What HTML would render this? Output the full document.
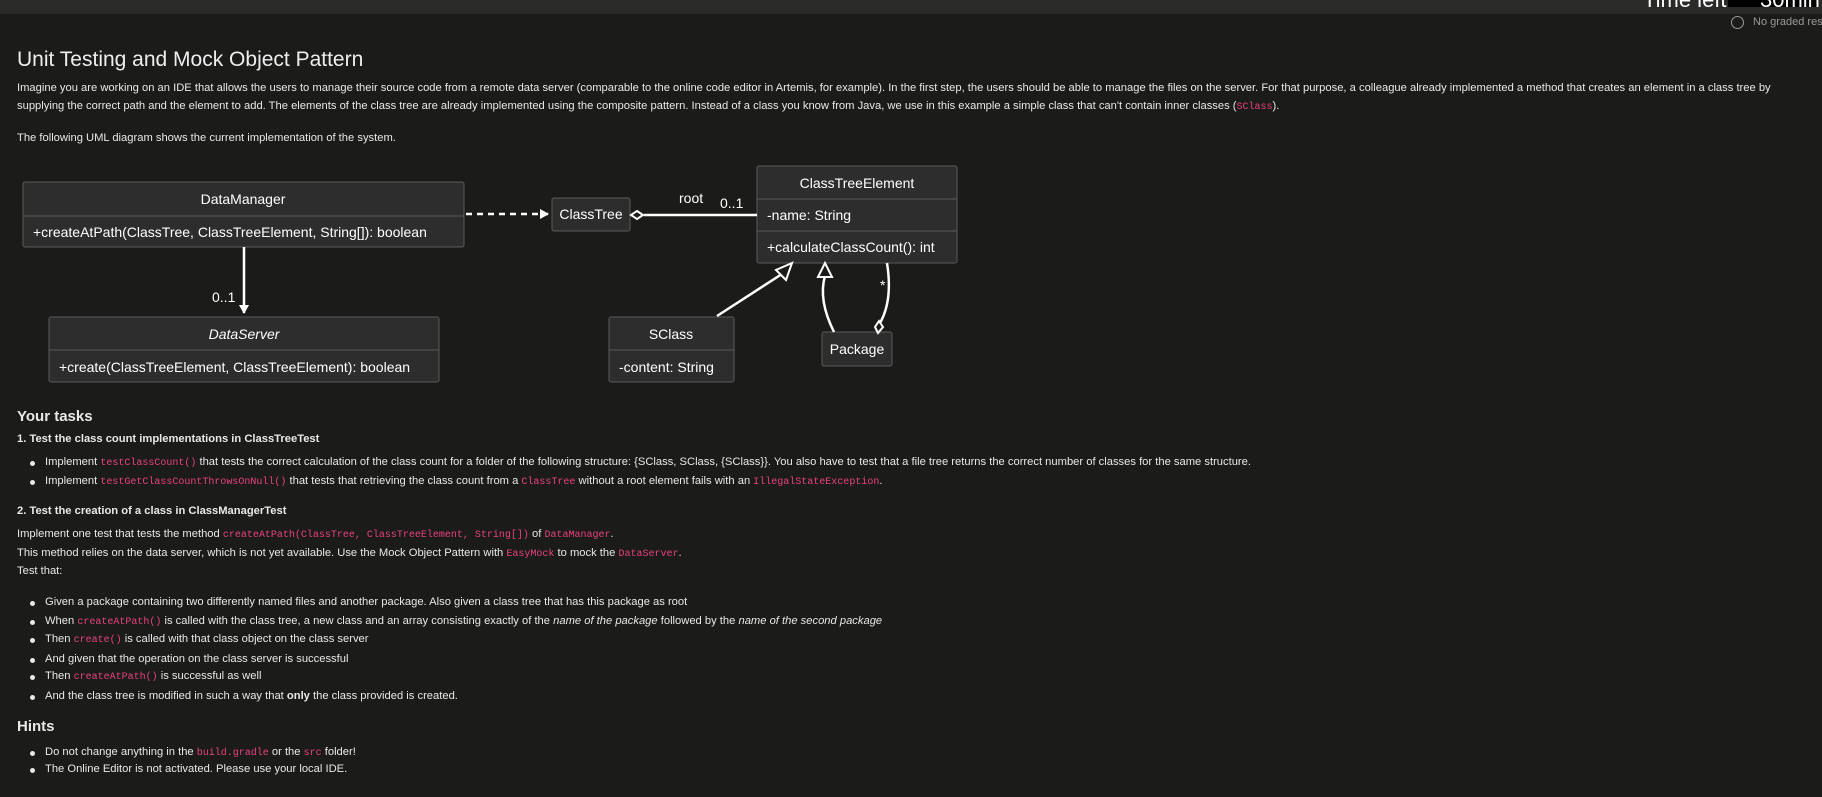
<!DOCTYPE html>
<html><head><meta charset="utf-8"><style>
body{margin:0;width:1822px;height:797px;overflow:hidden;background:#1b1c1a;color:#e8e8e8;font-family:"Liberation Sans",sans-serif;position:relative}
.abs{position:absolute;white-space:nowrap}
.t{font-size:11.2px}
code{font-family:"Liberation Mono",monospace;color:#e8417f;font-size:10px}
.b{font-weight:bold}
.dot{position:absolute;width:5px;height:5px;border-radius:50%;background:#e8e8e8}
</style></head><body>
<div class="abs" style="left:0;top:0;width:1822px;height:14px;background:#2a2b29"></div>
<div class="abs" style="left:1643px;top:-13px;font-size:22px;color:#fff">Time left:</div>
<div class="abs" style="left:1728px;top:0;width:90px;height:7px;background:#000"></div>
<div class="abs" style="left:1760px;top:-13px;font-size:22px;color:#fff">30min</div>
<div class="abs" style="left:1731px;top:16px;width:11px;height:11px;border:1.5px solid #999;border-radius:50%"></div>
<div class="abs" style="left:1753px;top:16px;font-size:11px;color:#999">No graded res</div>

<div class="abs" style="left:17px;top:48px;font-size:21px;color:#eee">Unit Testing and Mock Object Pattern</div>
<div class="abs t" style="left:17px;top:82px">Imagine you are working on an IDE that allows the users to manage their source code from a remote data server (comparable to the online code editor in Artemis, for example). In the first step, the users should be able to manage the files on the server. For that purpose, a colleague already implemented a method that creates an element in a class tree by</div>
<div class="abs t" style="left:17px;top:100px">supplying the correct path and the element to add. The elements of the class tree are already implemented using the composite pattern. Instead of a class you know from Java, we use in this example a simple class that can't contain inner classes (<code>SClass</code>).</div>
<div class="abs t" style="left:17px;top:132px">The following UML diagram shows the current implementation of the system.</div>

<svg class="abs" style="left:0;top:0" width="1000" height="400">
<defs>
<marker id="ah" markerWidth="10" markerHeight="10" refX="8" refY="5" orient="auto" markerUnits="userSpaceOnUse"><path d="M0,0 L9,5 L0,10 Z" fill="#fff"/></marker>
</defs>
<g fill="#2d2d2d" stroke="#5a5a5a" stroke-width="1">
<rect x="23" y="182" width="441" height="65" rx="2"/>
<line x1="23" y1="216" x2="464" y2="216"/>
<rect x="552" y="198" width="78" height="33" rx="2"/>
<rect x="757" y="166" width="200" height="97" rx="2"/>
<line x1="757" y1="199" x2="957" y2="199"/><line x1="757" y1="231" x2="957" y2="231"/>
<rect x="49" y="317" width="390" height="65" rx="2"/>
<line x1="49" y1="350" x2="439" y2="350"/>
<rect x="609" y="317" width="125" height="65" rx="2"/>
<line x1="609" y1="350" x2="734" y2="350"/>
<rect x="822" y="332" width="70" height="34" rx="2"/>
</g>
<g fill="#fff" font-family="Liberation Sans,sans-serif" font-size="14">
<text x="243" y="204" text-anchor="middle">DataManager</text>
<text x="33" y="237">+createAtPath(ClassTree, ClassTreeElement, String[]): boolean</text>
<text x="591" y="219" text-anchor="middle">ClassTree</text>
<text x="857" y="188" text-anchor="middle">ClassTreeElement</text>
<text x="767" y="220">-name: String</text>
<text x="767" y="252">+calculateClassCount(): int</text>
<text x="244" y="339" text-anchor="middle" font-style="italic">DataServer</text>
<text x="59" y="372">+create(ClassTreeElement, ClassTreeElement): boolean</text>
<text x="671" y="339" text-anchor="middle">SClass</text>
<text x="619" y="372">-content: String</text>
<text x="857" y="354" text-anchor="middle">Package</text>
<text x="212" y="302">0..1</text>
<text x="679" y="203">root</text>
<text x="720" y="208">0..1</text>
<text x="880" y="290">*</text>
</g>
<g stroke="#fff" stroke-width="2.5" fill="none">
<line x1="244" y1="247" x2="244" y2="313" marker-end="url(#ah)"/>
<line x1="466" y1="214" x2="548" y2="214" stroke-dasharray="6,5" marker-end="url(#ah)"/>
<line x1="644" y1="215" x2="757" y2="215"/>
<line x1="717" y1="316" x2="785" y2="272"/>
<path d="M834,332 Q818,300 825,276"/>
<path d="M887,263 Q893,300 880,323"/>
</g>
<g stroke="#fff" stroke-width="2" fill="#1b1c1a">
<path d="M631,215 L637,211 L643,215 L637,219 Z"/>
<path d="M792,263 L776,270 L786,280 Z"/>
<path d="M825,263 L818,277 L832,277 Z"/>
<path d="M878,333 L875,327 L879,321 L883,327 Z"/>
</g>
</svg>

<div class="abs" style="left:17px;top:408px;font-size:15px;font-weight:bold">Your tasks</div>
<div class="abs t b" style="left:17px;top:433px">1. Test the class count implementations in ClassTreeTest</div>
<div class="dot" style="left:30px;top:461px"></div>
<div class="abs t" style="left:45px;top:456px">Implement <code>testClassCount()</code> that tests the correct calculation of the class count for a folder of the following structure: {SClass, SClass, {SClass}}. You also have to test that a file tree returns the correct number of classes for the same structure.</div>
<div class="dot" style="left:30px;top:480px"></div>
<div class="abs t" style="left:45px;top:475px">Implement <code>testGetClassCountThrowsOnNull()</code> that tests that retrieving the class count from a <code>ClassTree</code> without a root element fails with an <code>IllegalStateException</code>.</div>
<div class="abs t b" style="left:17px;top:505px">2. Test the creation of a class in ClassManagerTest</div>
<div class="abs t" style="left:17px;top:528px">Implement one test that tests the method <code>createAtPath(ClassTree, ClassTreeElement, String[])</code> of <code>DataManager</code>.</div>
<div class="abs t" style="left:17px;top:547px">This method relies on the data server, which is not yet available. Use the Mock Object Pattern with <code>EasyMock</code> to mock the <code>DataServer</code>.</div>
<div class="abs t" style="left:17px;top:565px">Test that:</div>
<div class="dot" style="left:30px;top:601px"></div>
<div class="abs t" style="left:45px;top:596px">Given a package containing two differently named files and another package. Also given a class tree that has this package as root</div>
<div class="dot" style="left:30px;top:620px"></div>
<div class="abs t" style="left:45px;top:615px">When <code>createAtPath()</code> is called with the class tree, a new class and an array consisting exactly of the <i>name of the package</i> followed by the <i>name of the second package</i></div>
<div class="dot" style="left:30px;top:638px"></div>
<div class="abs t" style="left:45px;top:633px">Then <code>create()</code> is called with that class object on the class server</div>
<div class="dot" style="left:30px;top:658px"></div>
<div class="abs t" style="left:45px;top:653px">And given that the operation on the class server is successful</div>
<div class="dot" style="left:30px;top:675px"></div>
<div class="abs t" style="left:45px;top:670px">Then <code>createAtPath()</code> is successful as well</div>
<div class="dot" style="left:30px;top:695px"></div>
<div class="abs t" style="left:45px;top:690px">And the class tree is modified in such a way that <b>only</b> the class provided is created.</div>
<div class="abs" style="left:17px;top:718px;font-size:15px;font-weight:bold">Hints</div>
<div class="dot" style="left:30px;top:751px"></div>
<div class="abs t" style="left:45px;top:746px">Do not change anything in the <code>build.gradle</code> or the <code>src</code> folder!</div>
<div class="dot" style="left:30px;top:768px"></div>
<div class="abs t" style="left:45px;top:763px">The Online Editor is not activated. Please use your local IDE.</div>
</body></html>
